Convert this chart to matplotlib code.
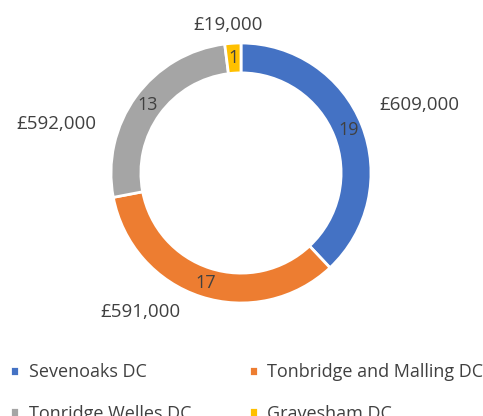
import matplotlib.pyplot as plt

councils = ["Sevenoaks DC", "Tonbridge and Malling DC", "Tonridge Welles DC", "Gravesham DC"]
counts = [19, 17, 13, 1]
amounts = ["£609,000", "£591,000", "£592,000", "£19,000"]
colours = ["#4472C4", "#ED7D31", "#A5A5A5", "#FFC000"]

# where the money labels sit (data units, ring radius = 1)
amount_pos = [(1.37, 0.52), (-0.77, -1.07), (-1.42, 0.38), (-0.10, 1.14)]

plt.rcParams['font.family'] = ['Open Sans', 'DejaVu Sans']
txt = "#404040"

fig = plt.figure(figsize=(4.83, 4.16), dpi=100)
ax = fig.add_axes([0, 0, 1, 1])

wedges, _, autotexts = ax.pie(
    counts, colors=colours, startangle=90, counterclock=False,
    radius=1.0, autopct=lambda p: "%d" % round(p * sum(counts) / 100),
    pctdistance=0.89, wedgeprops=dict(width=0.23, edgecolor="white", linewidth=2),
    textprops=dict(color=txt, fontsize=13))

for (x, y), s in zip(amount_pos, amounts):
    ax.text(x, y, s, ha="center", va="center", fontsize=13.5, color=txt)

ax.set_aspect("auto")
ax.set_xlim(-241 / 130, 242 / 130)
ax.set_ylim((173 - 416) / 130, 173 / 130)
ax.axis("off")

# legend fills column by column, so reorder to get rows like the original
order = [0, 2, 1, 3]
fig.legend([wedges[i] for i in order], [councils[i] for i in order], ncol=2,
           loc="upper left", bbox_to_anchor=(-0.012, 0.166),
           frameon=False, handlelength=0.5, handleheight=0.5, handletextpad=0.5,
           columnspacing=3.2, labelspacing=1.3, prop=dict(size=13), labelcolor=txt)

fig.savefig("out.png", dpi=100)
